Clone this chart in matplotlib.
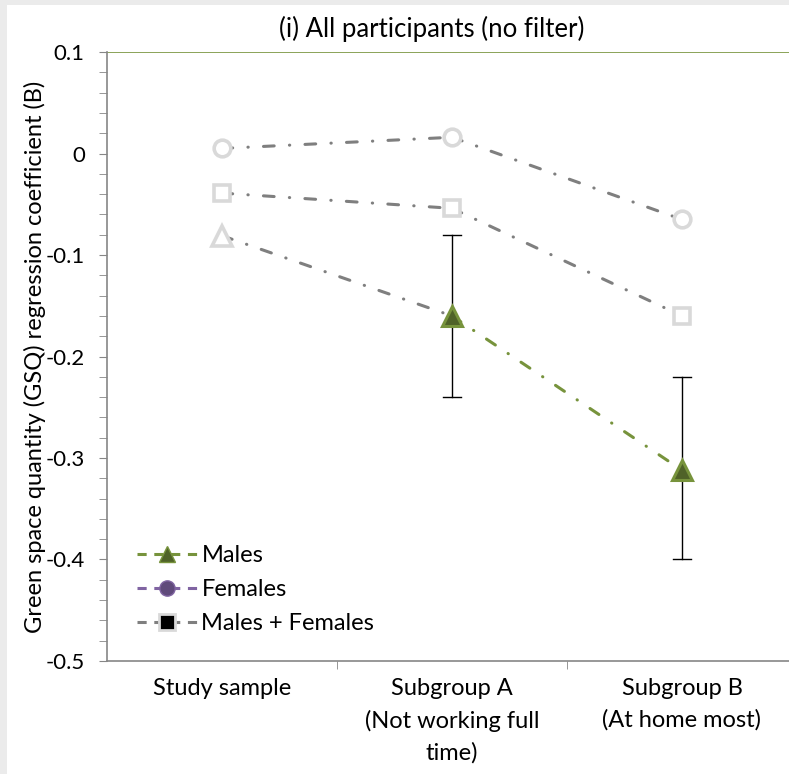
import matplotlib.pyplot as plt
from matplotlib.lines import Line2D

plt.rcParams['font.family'] = ['Lato', 'DejaVu Sans']

# Daten
categories = ['Study sample', 'Subgroup A\n(Not working full\ntime)', 'Subgroup B\n(At home most)']
males = [-0.081, -0.160, -0.312]
females = [0.005, 0.016, -0.065]
combined = [-0.039, -0.054, -0.160]
males_sig = [False, True, True]
females_sig = [False, False, False]
combined_sig = [False, False, False]
males_err_low = [None, -0.240, -0.400]
males_err_high = [None, -0.080, -0.220]

grey_line = '#7f7f7f'
grey_marker = '#d9d9d9'
green_line = '#77933c'
green_fill = '#4f6228'

fig = plt.figure(figsize=(7.89, 7.74), dpi=100)
fig.patch.set_facecolor('#ebebeb')
fig.add_artist(plt.Rectangle((0.009, 0), 0.991, 0.993, transform=fig.transFigure,
                             facecolor='white', edgecolor='none', zorder=0))
ax = fig.add_axes([0.1356, 0.146, 0.8745, 0.7868])
ax.set_facecolor('white')

x = list(range(len(categories)))
dash = (0, (3.5, 5.0, 0.1, 5.0))

# Fehlerbalken (nur signifikante Punkte)
for i in x:
    if males_err_low[i] is not None:
        ax.plot([i, i], [males_err_low[i], males_err_high[i]], color='black', lw=1, zorder=2)
        for yv in (males_err_low[i], males_err_high[i]):
            ax.plot([i - 0.04, i + 0.04], [yv, yv], color='black', lw=1, zorder=2)

series = [(females, females_sig, 'o', 12), (combined, combined_sig, 's', 12), (males, males_sig, '^', 15)]
for vals, sig, mk, ms in series:
    for i in range(len(vals) - 1):
        col = green_line if (sig[i] and sig[i + 1]) else grey_line
        ax.plot([x[i], x[i + 1]], [vals[i], vals[i + 1]], color=col, lw=2.2,
                linestyle=dash, dash_capstyle='round', zorder=3)
    for i in x:
        if sig[i]:
            ax.plot(x[i], vals[i], marker=mk, ms=ms, mfc=green_fill, mec=green_line, mew=2.2, zorder=4)
        else:
            ax.plot(x[i], vals[i], marker=mk, ms=ms, mfc='white', mec=grey_marker, mew=2.6, zorder=4)

ax.axhline(0.1, color='#77933c', lw=1.2, zorder=1)

ax.set_xlim(-0.5, 2.5)
ax.set_ylim(-0.5, 0.1)
ax.set_yticks([0.1, 0, -0.1, -0.2, -0.3, -0.4, -0.5])
ax.set_yticklabels(['0.1', '0', '-0.1', '-0.2', '-0.3', '-0.4', '-0.5'])
ax.set_yticks([v / 100 for v in range(-50, 11, 2)], minor=True)
ax.set_xticks(x)
ax.set_xticklabels(categories, fontsize=17, linespacing=1.6)
ax.set_xticks([0.5, 1.5], minor=True)
ax.tick_params(axis='x', which='major', length=0, pad=12)
ax.tick_params(axis='x', which='minor', length=6, color='#868686')
ax.tick_params(axis='y', which='both', length=6, color='#868686', labelsize=16, pad=10)

for s in ['top', 'right']:
    ax.spines[s].set_visible(False)
for s in ['left', 'bottom']:
    ax.spines[s].set_color('#868686')
    ax.spines[s].set_linewidth(1.2)

ax.set_ylabel('Green space quantity (GSQ) regression coefficient (B)', fontsize=17, labelpad=0)
ax.set_title('(i) All participants (no filter)', fontsize=18.5, pad=11, x=0.471)

# Legende
handles = [
    Line2D([], [], color=green_line, lw=2.2, linestyle=(0, (3, 2.5)), marker='^', ms=12,
           mfc=green_fill, mec=green_line),
    Line2D([], [], color='#8064a2', lw=2.2, linestyle=(0, (3, 2.5)), marker='o', ms=11,
           mfc='#604a7b', mec='#8064a2'),
    Line2D([], [], color=grey_line, lw=2.2, linestyle=(0, (3, 2.5)), marker='s', ms=11,
           mfc='black', mec=grey_marker, mew=2),
]
ax.legend(handles, ['Males', 'Females', 'Males + Females'], loc='lower left',
          bbox_to_anchor=(0.012, 0.009), frameon=False, fontsize=17, handlelength=2.6,
          handletextpad=0.15, labelspacing=0.55)

plt.savefig('out.png', dpi=100, facecolor=fig.get_facecolor())
